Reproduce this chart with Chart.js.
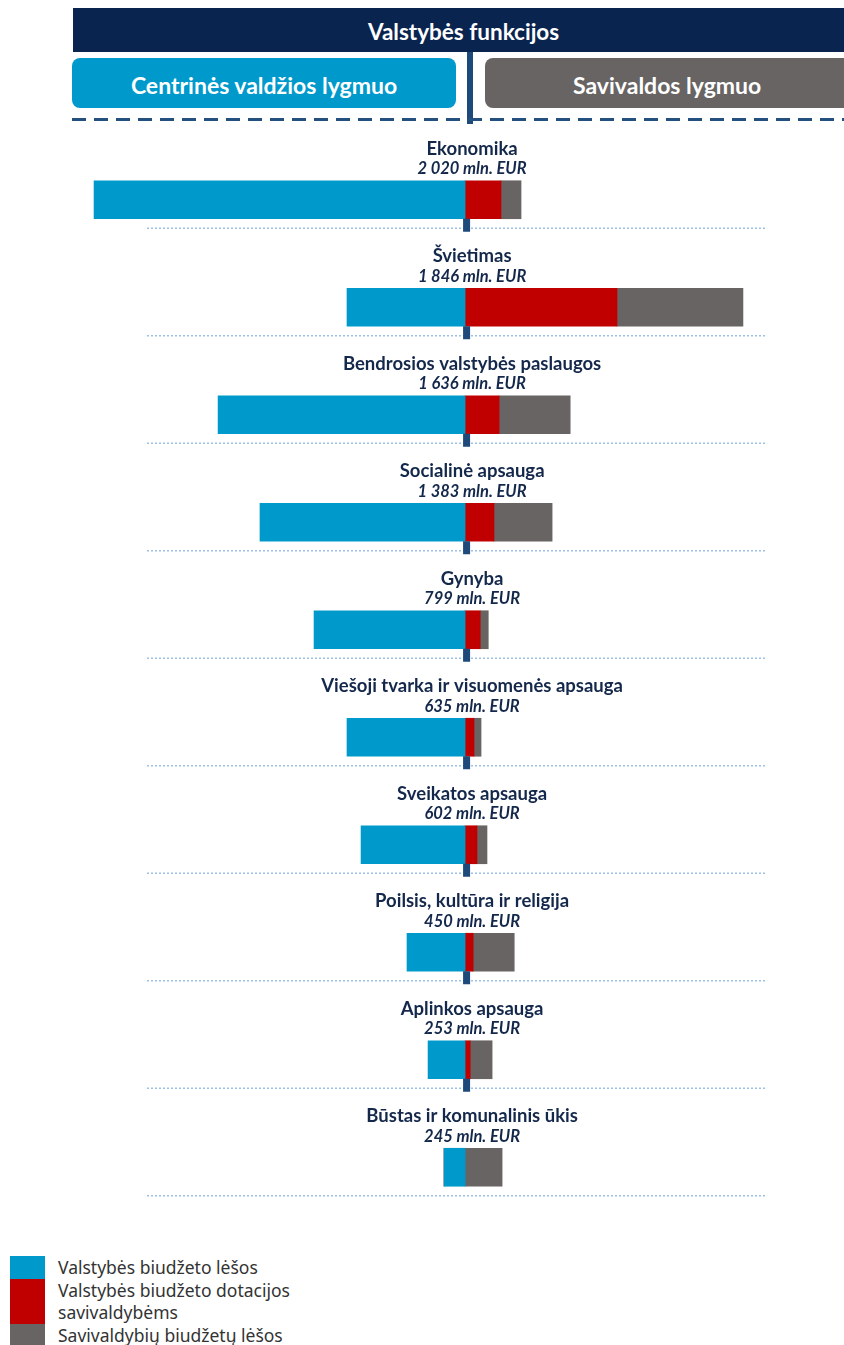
<!DOCTYPE html>
<html lang="lt">
<head>
  <meta charset="UTF-8" />
  <title>Valstybės funkcijos</title>
  <style>
    html, body { margin: 0; padding: 0; background: #fff; }
    body { width: 844px; height: 1345px; position: relative; overflow: hidden; font-family: Lato, "Open Sans", sans-serif; }
    .hdr { position: absolute; top: 8px; left: 73px; width: 790px; height: 44px; background: #0a2450; color: #fff;
           font-weight: bold; font-size: 22.5px; line-height: 48px; }
    .hdr span { position: absolute; left: 295px; }
    .box { position: absolute; top: 58px; height: 50px; border-radius: 8px; color: #fff; font-weight: bold; font-size: 23px;
           line-height: 54px; text-align: center; }
    .box.central { left: 72px; width: 384px; background: #0099cc; }
    .box.local { left: 485px; width: 380px; background: #686463; text-align: left; }
    .box.local span { position: absolute; left: 88px; }
    .vline { position: absolute; left: 467px; top: 52px; width: 6px; height: 72px; background: #1d4a7a; }
    .dash { position: absolute; left: 72px; right: 0; top: 118px; height: 3px;
            background: repeating-linear-gradient(90deg, #24507f 0 14px, transparent 14px 22px); }
    .chart-box { position: absolute; left: 0; top: 120px; width: 844px; height: 1110px; }
    #legend { position: absolute; left: 10px; top: 1256px; font-family: "Noto Sans", sans-serif; font-size: 17.5px;
              color: #333; line-height: 22.5px; }
    #legend .item { display: flex; }
    #legend .sw { width: 35px; flex: none; }
    #legend .tx { width: 260px; padding-left: 13px; white-space: normal; }
  </style>
</head>
<body>
  <div class="hdr"><span>Valstybės funkcijos</span></div>
  <div class="box central">Centrinės valdžios lygmuo</div>
  <div class="box local"><span>Savivaldos lygmuo</span></div>
  <div class="vline"></div>
  <div class="dash"></div>
  <div class="chart-box"><canvas id="funcChart"></canvas></div>
  <div id="legend"></div>

  <script src="https://cdn.jsdelivr.net/npm/chart.js"></script>
  <script>
    // mln. EUR
    const functions = ['Ekonomika', 'Švietimas', 'Bendrosios valstybės paslaugos', 'Socialinė apsauga', 'Gynyba',
      'Viešoji tvarka ir visuomenės apsauga', 'Sveikatos apsauga', 'Poilsis, kultūra ir religija', 'Aplinkos apsauga',
      'Būstas ir komunalinis ūkis'];
    const totals = [2020, 1846, 1636, 1383, 799, 635, 602, 450, 253, 245];
    const stateFunds = [1744, 555, 1161, 964, 710, 555, 489, 273, 174, 99];
    const stateGrants = [169, 714, 160, 136, 71, 42, 56, 38, 24, 0];
    const municipalFunds = [94, 592, 334, 273, 38, 33, 47, 193, 103, 174];
    const seriesNames = ['Valstybės biudžeto lėšos', 'Valstybės biudžeto dotacijos savivaldybėms', 'Savivaldybių biudžetų lėšos'];
    const seriesColors = ['#0099cc', '#c00000', '#686463'];

    const fmt = v => String(v).replace(/\B(?=(\d{3})+(?!\d))/g, ' ') + ' mln. EUR';

    const rowLabels = {
      id: 'rowLabels',
      afterDatasetsDraw(chart) {
        const { ctx, scales: { x, y } } = chart;
        const cx = x.getPixelForValue(0);
        ctx.save();
        functions.forEach((name, i) => {
          const cy = y.getPixelForValue(i);
          // dotted separator
          ctx.strokeStyle = '#9cc0e6';
          ctx.lineWidth = 1.5;
          ctx.setLineDash([2, 2]);
          ctx.beginPath();
          ctx.moveTo(147, cy + 28.5);
          ctx.lineTo(767, cy + 28.5);
          ctx.stroke();
          ctx.setLineDash([]);
          if (i < functions.length - 1) {
            ctx.fillStyle = '#1d4a7a';
            ctx.fillRect(cx - 2, cy + 19, 7, 13);
          }
          ctx.fillStyle = '#14284b';
          ctx.textAlign = 'center';
          ctx.textBaseline = 'middle';
          ctx.font = 'bold 18.5px Lato, sans-serif';
          ctx.fillText(name, cx + 7, cy - 51);
          ctx.font = 'italic bold 16.5px Lato, sans-serif';
          ctx.fillText(fmt(totals[i]), cx + 7, cy - 31);
        });
        ctx.restore();
      }
    };

    const chart = new Chart(document.getElementById('funcChart'), {
      type: 'bar',
      data: {
        labels: functions,
        datasets: [
          { label: seriesNames[0], data: stateFunds.map(v => -v), backgroundColor: seriesColors[0] },
          { label: seriesNames[1], data: stateGrants, backgroundColor: seriesColors[1] },
          { label: seriesNames[2], data: municipalFunds, backgroundColor: seriesColors[2] }
        ]
      },
      options: {
        indexAxis: 'y',
        responsive: true, maintainAspectRatio: false, animation: false,
        layout: { padding: { top: 26, bottom: 9, left: 0, right: 0 } },
        datasets: { bar: { barThickness: 38, borderSkipped: false } },
        plugins: { legend: { display: false }, tooltip: { enabled: false } },
        scales: {
          x: { stacked: true, display: false, min: -2186, max: 1781 },
          y: { stacked: true, display: false }
        }
      },
      plugins: [rowLabels]
    });

    // legend built from the chart datasets
    const legend = document.getElementById('legend');
    chart.data.datasets.forEach(ds => {
      const item = document.createElement('div');
      item.className = 'item';
      item.innerHTML = `<div class="sw" style="background:${ds.backgroundColor}"></div><div class="tx">${ds.label}</div>`;
      legend.appendChild(item);
    });
  </script>
</body>
</html>
